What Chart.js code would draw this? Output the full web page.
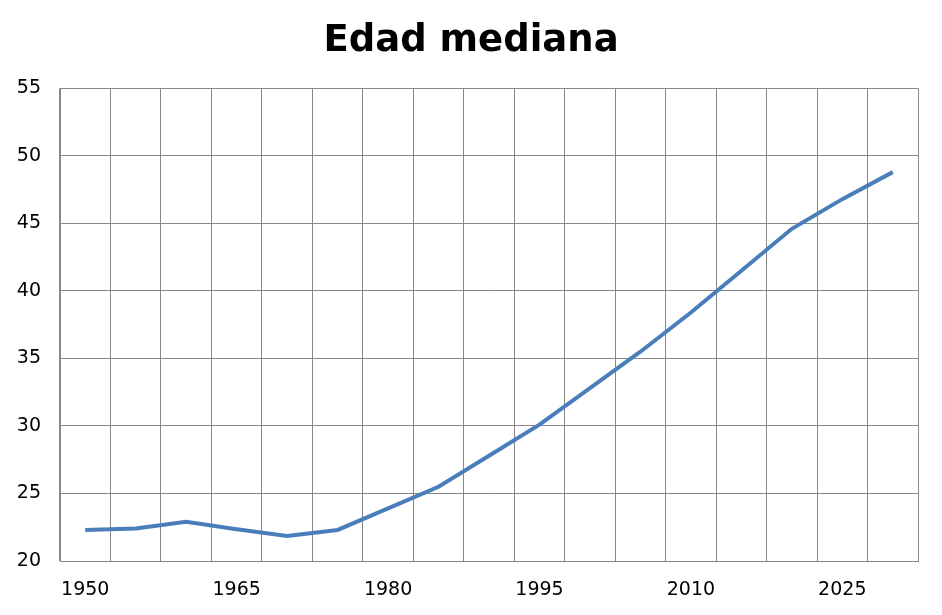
<!DOCTYPE html>
<html>
<head>
<meta charset="utf-8">
<title>Edad mediana</title>
<script src="https://cdn.jsdelivr.net/npm/chart.js@4/dist/chart.umd.min.js"></script>
<style>
  html, body { margin: 0; padding: 0; background: #fff; }
  #wrap { width: 942px; height: 615px; }
</style>
</head>
<body>
<div id="wrap"><canvas id="chart" width="942" height="615"></canvas></div>
<script>
// years on the x axis, one point every 5 years
const years = ["1950", "1955", "1960", "1965", "1970", "1975", "1980", "1985", "1990",
  "1995", "2000", "2005", "2010", "2015", "2020", "2025", "2030"];

// median age
const medianAge = [22.3, 22.4, 22.9, 22.35, 21.85, 22.3, 23.9, 25.5, 27.8,
  30.1, 32.8, 35.5, 38.4, 41.5, 44.6, 46.8, 48.8];

// only every third year gets a label
const shownYears = ["1950", "1965", "1980", "1995", "2010", "2025"];

const gridGray = "#878787";
const fontFamily = "'DejaVu Sans', Verdana, sans-serif";

document.addEventListener("DOMContentLoaded", () => {
  const ctx = document.getElementById("chart").getContext("2d");
  new Chart(ctx, {
    type: "line",
    data: {
      labels: years,
      datasets: [{
        label: "Edad mediana",
        data: medianAge,
        borderColor: "#4a7ebb",
        borderWidth: 4,
        pointRadius: 0,
        tension: 0,
        fill: false
      }]
    },
    options: {
      responsive: false,
      animation: false,
      layout: { padding: 0 },
      plugins: {
        legend: { display: false },
        tooltip: { enabled: false },
        title: {
          display: true,
          text: "Edad mediana",
          color: "#000",
          font: { family: fontFamily, size: 37, weight: "bold" },
          padding: { top: 19, bottom: 25 }
        }
      },
      scales: {
        x: {
          offset: true,
          grid: { offset: true, color: gridGray, lineWidth: 1, drawTicks: false },
          border: { color: gridGray, width: 1 },
          ticks: {
            autoSkip: false,
            maxRotation: 0,
            padding: 18,
            color: "#000",
            font: { family: fontFamily, size: 19 },
            callback: function (value) {
              const lbl = this.getLabelForValue(value);
              return shownYears.includes(lbl) ? lbl : "";
            }
          },
          afterFit: (scale) => { scale.height = 54; }
        },
        y: {
          min: 20,
          max: 55,
          grid: { color: gridGray, lineWidth: 1, drawTicks: false },
          border: { color: gridGray, width: 1 },
          ticks: {
            stepSize: 5,
            padding: 19,
            color: "#000",
            font: { family: fontFamily, size: 19 }
          },
          afterFit: (scale) => { scale.width = 60; }
        },
        // empty right-hand strip so the title stays centred on the page
        yRight: {
          position: "right",
          min: 20,
          max: 55,
          grid: { display: false },
          border: { display: false },
          ticks: { display: false },
          afterFit: (scale) => { scale.width = 24; }
        }
      }
    }
  });
});
</script>
</body>
</html>
